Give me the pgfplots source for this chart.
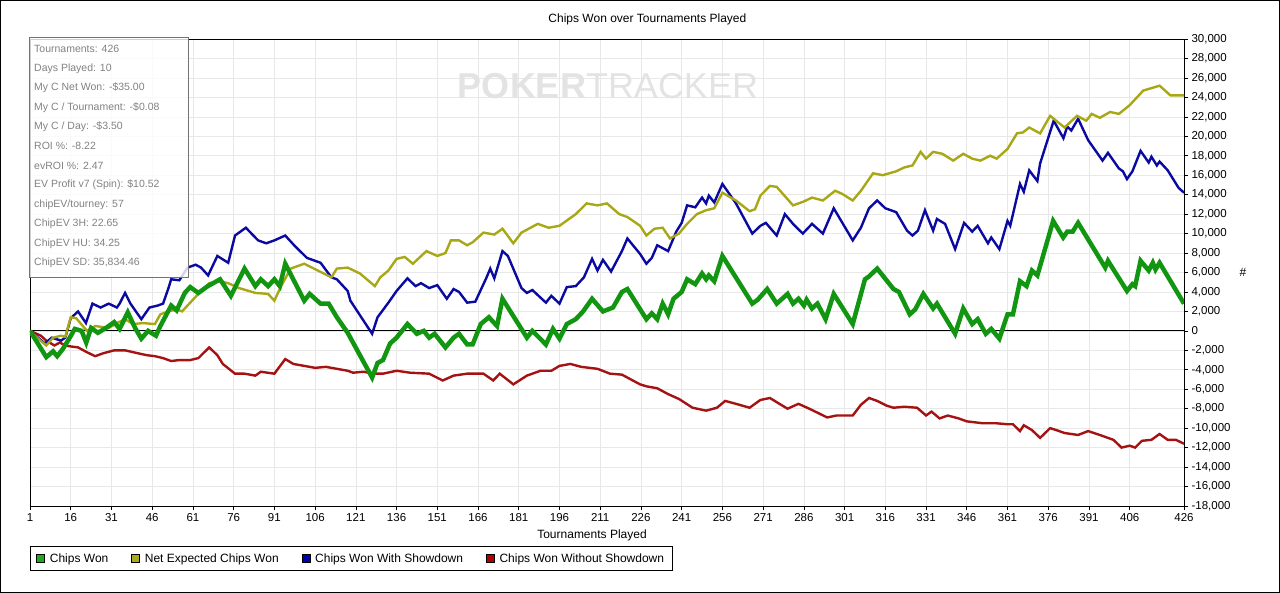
\documentclass[border=0pt]{standalone}
\usepackage{pgfplots}
\pgfplotsset{compat=1.18}
\usepackage{fontspec}
\setmainfont{Liberation Sans}
\definecolor{cgreen}{RGB}{18,150,18}
\definecolor{cyellow}{RGB}{168,168,22}
\definecolor{cblue}{RGB}{10,10,160}
\definecolor{cred}{RGB}{165,18,18}
\definecolor{lgreen}{RGB}{30,170,30}
\definecolor{lyellow}{RGB}{170,170,30}
\definecolor{lblue}{RGB}{0,0,170}
\definecolor{lred}{RGB}{175,0,0}
\definecolor{infotext}{RGB}{130,130,130}
\begin{document}
\begin{tikzpicture}
\begin{axis}[
  scale only axis, width=1154pt, height=467pt,
  xmin=1, xmax=426, ymin=-18000, ymax=30000,
  xtick={1,16,31,46,61,76,91,106,121,136,151,166,181,196,211,226,241,256,271,286,301,316,331,346,361,376,391,406,426},
  ytick={-18000,-16000,...,30000},
  extra y ticks={0}, extra y tick labels={},
  extra y tick style={grid style={black,line width=0.9pt}, major tick length=0pt},
  ytick pos=right, xtick pos=bottom,
  tick align=outside, major tick length=4pt,
  grid=major, grid style={color=black!9, line width=0.6pt},
  axis line style={black, line width=0.9pt},
  tick style={black, line width=0.6pt},
  ticklabel style={font=\fontsize{11.5}{13}\selectfont},
  /pgf/number format/assume math mode=true,
  yticklabel style={/pgf/number format/.cd,1000 sep={,}},
  scaled y ticks=false,
  xlabel={Tournaments Played},
  every axis x label/.style={at={(axis description cs:0.487,-0.064)},anchor=center,font=\fontsize{12}{13}\selectfont},
  ylabel={\#},
  every axis y label/.style={at={(axis description cs:1.051,0.5)},anchor=center,font=\fontsize{12}{13}\selectfont},
  title={Chips Won over Tournaments Played},
  every axis title/.style={at={(axis description cs:0.535,1.041)},anchor=center,font=\fontsize{12}{13}\selectfont},
  legend style={at={(axis description cs:0,-0.0857)}, anchor=north west, draw=black, line width=0.8pt,
    font=\fontsize{12}{13}\selectfont, inner xsep=6pt, inner ysep=5pt,
    /tikz/every odd column/.append style={column sep=3pt},
    /tikz/every even column/.append style={column sep=21pt}},
  legend columns=4,
]
\coordinate (O) at (rel axis cs:0,0);
\addlegendimage{legend image code/.code={\draw[black,fill=lgreen,line width=0.5pt] (0pt,-4pt) rectangle (8pt,4pt);}}
\addlegendentry{Chips Won}
\addlegendimage{legend image code/.code={\draw[black,fill=lyellow,line width=0.5pt] (0pt,-4pt) rectangle (8pt,4pt);}}
\addlegendentry{Net Expected Chips Won}
\addlegendimage{legend image code/.code={\draw[black,fill=lblue,line width=0.5pt] (0pt,-4pt) rectangle (8pt,4pt);}}
\addlegendentry{Chips Won With Showdown}
\addlegendimage{legend image code/.code={\draw[black,fill=lred,line width=0.5pt] (0pt,-4pt) rectangle (8pt,4pt);}}
\addlegendentry{Chips Won Without Showdown}

% Chips Won Without Showdown
\addplot[cred, line width=2.4pt, forget plot] coordinates {
(1,0)(5,-500)(7,-1000)(10,-1500)(12,-1200)(14,-1500)(16,-1600)(18.7,-1700)(22,-2200)(25,-2600)(28,-2300)(32,-2000)(36,-2000)(40.7,-2300)(44,-2500)(47,-2600)(50,-2800)(53,-3100)(56,-3000)(60,-3000)(63,-2800)(67,-1700)(70,-2500)(72,-3400)(76.5,-4400)(80,-4400)(84,-4600)(86,-4200)(91,-4400)(95,-2900)(98,-3400)(102,-3600)(106,-3800)(110,-3700)(114,-3900)(118,-4100)(120,-4300)(124,-4200)(127,-4400)(131,-4400)(136,-4100)(141,-4300)(148,-4400)(153,-5100)(157,-4600)(162,-4400)(168,-4400)(171.6,-5100)(174,-4400)(179,-5500)(184,-4600)(189,-4100)(193,-4100)(196,-3600)(200,-3400)(204,-3700)(210,-3900)(214.6,-4400)(219,-4500)(223,-5100)(225.7,-5500)(228,-5700)(232,-5900)(236,-6500)(240,-7000)(245,-7900)(250,-8200)(254,-7900)(257,-7200)(261,-7500)(266,-7900)(270,-7100)(273.5,-6900)(277,-7500)(280,-8000)(284,-7500)(288,-8000)(294.6,-8900)(298,-8700)(304,-8700)(307,-7600)(310,-6900)(313,-7200)(316.6,-7700)(319,-7900)(323,-7800)(327.7,-7900)(331,-8700)(333,-8300)(336,-9000)(339,-8700)(343,-9000)(346,-9300)(352,-9500)(357,-9500)(361,-9600)(363,-9600)(365.6,-10300)(367,-9700)(370,-10200)(373,-11000)(376.7,-10000)(379,-10200)(382,-10500)(387,-10700)(390.7,-10300)(395,-10700)(400,-11200)(403,-12000)(406,-11800)(408,-12000)(410.5,-11300)(414,-11200)(417,-10600)(420,-11200)(423,-11200)(426,-11600)
};
% Chips Won With Showdown
\addplot[cblue, line width=2.4pt, forget plot] coordinates {
(1,0)(6.5,-1300)(9,-700)(12.4,-1000)(14,-700)(16,1300)(18.7,2000)(21.6,800)(24,2800)(27,2400)(30,2800)(33,2400)(34,2800)(36,3900)(38,2800)(42,1200)(45,2400)(48,2600)(50,2800)(52,4400)(53,5300)(56,5200)(59,6500)(62,6800)(64,6500)(66.6,5700)(70,7700)(74,7000)(76.5,9800)(80.5,10600)(85,9300)(88,9000)(91,9300)(95,9800)(98.6,8700)(103,7500)(108,7000)(112,5500)(114,5300)(118,4100)(119,3100)(127,-300)(129,1400)(133,2900)(136,4100)(140,5400)(143,4600)(145,4900)(148,4400)(151,4700)(154.5,3300)(157,4300)(159,4000)(162,2900)(165,3000)(169,5400)(170.5,6400)(172,5400)(175,8200)(177,7700)(182,4400)(184,3900)(186,4200)(191,2900)(193,3600)(196,2800)(198.7,4500)(202,4600)(205,5500)(208,7400)(210,6200)(212,7300)(215,6100)(219,8200)(221,9500)(225.7,7900)(228,6900)(230,7500)(232,8800)(236,8200)(239,10200)(241,11100)(243,12900)(246,12700)(248.5,13700)(250,13100)(251,13900)(253,13200)(256,15100)(261,13100)(267,10000)(270,10800)(272,11100)(276,9800)(279,12000)(282,11000)(285.6,10000)(289,11000)(293,10000)(297,12600)(304,9300)(307,10600)(310,12600)(313,13400)(316,12600)(320,12200)(324,10300)(326,9800)(328,10300)(330.6,12400)(333.6,10300)(335,11500)(338,11000)(341.7,8400)(345,11100)(348,10200)(350,10800)(353.8,9000)(355,9600)(358,8400)(361,11300)(362,10800)(365.6,15100)(367,14300)(369,16500)(372,15400)(373,17200)(378,21600)(381.6,19800)(383,21000)(384.5,20600)(387,21800)(390.7,19600)(396,17500)(398,18300)(402,16700)(403.5,16400)(405,15600)(407,16400)(410,18500)(413,17300)(414,17900)(416,17000)(417,17400)(420,16500)(424,14700)(426,14200)
};
% Net Expected Chips Won
\addplot[cyellow, line width=2.4pt, forget plot] coordinates {
(1,0)(4,-800)(7,-1500)(9.5,-700)(12.4,-500)(14,-600)(16,1400)(18,1300)(22,0)(25,500)(30,300)(33,800)(36,1200)(39,700)(42.6,800)(47,700)(49,1700)(52,2000)(55,2200)(57,2000)(59,2600)(63,3800)(67,4900)(71,5100)(74,4900)(78,4400)(84,3900)(88.7,3800)(91,3100)(93.5,4600)(97,6400)(102,6900)(107,6200)(112,5500)(114,6400)(118,6500)(122.5,5900)(128,4600)(130,5500)(133,6200)(136,7400)(139,7600)(142,6900)(147,8200)(151,7700)(154,8000)(156,9300)(159,9300)(162,8800)(164,9100)(168,10100)(172,9900)(175,10500)(179,9000)(182,10100)(188,11000)(192,10600)(196,10800)(202,12000)(206,13100)(210,12900)(213.5,13100)(218,12000)(221,11700)(225.7,10800)(228,9800)(231,10500)(234,10600)(236.7,9500)(240,10000)(243,11000)(246.6,12000)(250,12400)(253,12600)(256,14200)(261,13400)(266,12300)(268,12500)(270,13900)(273.5,14900)(276,14800)(282,12900)(286,13300)(289,13700)(293,13400)(297.5,14400)(300,14100)(304,13400)(307,14400)(311.5,16200)(315,16000)(320,16400)(323,16800)(326,17000)(329,18400)(331,17700)(333.6,18400)(337,18200)(341,17500)(344.7,18200)(348,17700)(351,17500)(354.6,18000)(357,17700)(361,18700)(364.5,20300)(366.7,20400)(369,20900)(373,20300)(376.7,22100)(382,20900)(386.6,22100)(390,21600)(392,22300)(395,21900)(398.8,22500)(402,22300)(406,23200)(411,24700)(414.6,25000)(417,25200)(421,24200)(426,24200)
};
% Chips Won
\addplot[cgreen, line width=4.5pt, forget plot] coordinates {
(1,0)(7,-2700)(9.5,-2100)(11,-2600)(13,-1900)(15,-1000)(17.5,200)(20,0)(21.7,-1200)(23.5,300)(26,-200)(29,300)(32,900)(34,200)(37,1900)(39.7,300)(42,-800)(44.5,0)(47.4,-500)(49,500)(53,2600)(55,2100)(58,3900)(60,4500)(63,3900)(66.5,4600)(71,5300)(75,3600)(80,6400)(84,4600)(86,5300)(88.7,4600)(91,5300)(93,4600)(95,6900)(102,3100)(104,3800)(108,2800)(111,2800)(114,1400)(118,-200)(127,-4800)(129,-3300)(131,-3000)(133.6,-1300)(136,-700)(140,700)(143.5,-300)(146,0)(148,-700)(150,-300)(154,-1700)(157,-700)(159,-300)(162,-1400)(164,-1400)(167,700)(170,1400)(173,500)(175,3300)(184,-700)(186,0)(191,-1400)(193.6,200)(196,-800)(198.7,700)(202,1200)(204.7,2000)(208,3300)(212,2000)(215.7,2400)(219,4000)(221,4300)(228,1200)(230,1800)(232,1200)(234,2800)(236,1700)(238,3300)(241,4000)(243,5300)(246,4800)(248.5,5900)(250,5300)(251,5700)(253,5100)(256,7700)(267,2800)(269,3200)(272.5,4300)(276,2800)(280,3800)(282,2800)(284,3300)(286,2600)(287,3200)(289,2300)(291,2800)(294,1200)(297,3800)(304,700)(308.5,5300)(310,5600)(313,6400)(319,4300)(321,4000)(325,1700)(327,2200)(330,3800)(333.6,2300)(335,2800)(341.7,-300)(344.7,2300)(348,700)(350,1200)(353,-300)(355,200)(358,-800)(361,1700)(363,1700)(365.6,5100)(368,4600)(370,6200)(372,5700)(377.8,11300)(381.5,9600)(383,10200)(385,10200)(387,11100)(397,6500)(398,7200)(405,4100)(407,4800)(408,4600)(410,7200)(413,6200)(414.5,7000)(415.5,6300)(417,7000)(426,2800)
};
\end{axis}
\pgfresetboundingbox
\path (O) ++(-30pt,-87pt) coordinate (BL);
\useasboundingbox (BL) rectangle ++(1280pt,593pt);
\begin{scope}[shift={(BL)}, x=1pt, y=1pt]
% watermark
\node[text=black!11, anchor=center, inner sep=0pt] at (608,507)
  {\fontsize{36}{36}\selectfont\textbf{POKER}TRACKER};
% info box
\fill[white, fill opacity=0.82] (29,315) rectangle (188,555);
\draw[black!55, line width=1pt] (29,315) rectangle (188,555);
\begin{scope}[every node/.style={anchor=west, inner sep=0pt, text=infotext, font=\fontsize{10.5}{12}\selectfont}]
\node at (34,544) {Tournaments: 426};
\node at (34,524.5) {Days Played: 10};
\node at (34,505) {My C Net Won: -\$35.00};
\node at (34,485.6) {My C / Tournament: -\$0.08};
\node at (34,466.2) {My C / Day: -\$3.50};
\node at (34,446.7) {ROI \%: -8.22};
\node at (34,427.3) {evROI \%: 2.47};
\node at (34,407.8) {EV Profit v7 (Spin): \$10.52};
\node at (34,388.4) {chipEV/tourney: 57};
\node at (34,368.9) {ChipEV 3H: 22.65};
\node at (34,349.5) {ChipEV HU: 34.25};
\node at (34,330) {ChipEV SD: 35,834.46};
\end{scope}
% outer frame
\draw[black, line width=1pt] (0.5,0.5) rectangle (1279.5,592.5);
\end{scope}
\end{tikzpicture}
\end{document}
